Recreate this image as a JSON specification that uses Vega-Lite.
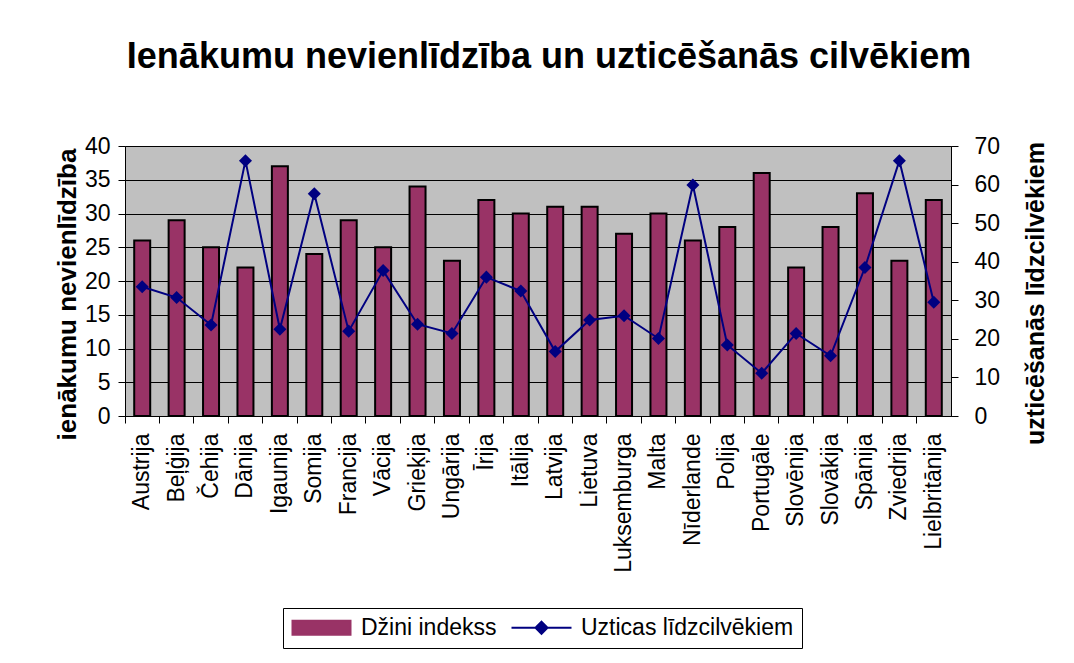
{
  "$schema": "https://vega.github.io/schema/vega-lite/v6.json",
  "autosize": {"type": "none"},
  "width": 826,
  "height": 270,
  "padding": {"left": 125, "top": 146, "right": 123, "bottom": 247},
  "background": "white",
  "config": {
    "font": "Liberation Sans",
    "view": {"fill": "#C0C0C0", "stroke": "#808080", "strokeWidth": 1},
    "axis": {"labelColor": "black", "titleColor": "black", "labelFont": "Liberation Sans", "titleFont": "Liberation Sans"}
  },
  "title": {
    "text": "Ienākumu nevienlīdzība un uzticēšanās cilvēkiem",
    "fontSize": 36,
    "fontWeight": "bold",
    "color": "black",
    "anchor": "middle",
    "dx": 11,
    "offset": 59
  },
  "data": {
    "values": [
      {"valsts": "Austrija", "dzini": 26, "uzticas": 33.5},
      {"valsts": "Beļģija", "dzini": 29, "uzticas": 30.7},
      {"valsts": "Čehija", "dzini": 25, "uzticas": 23.6},
      {"valsts": "Dānija", "dzini": 22, "uzticas": 66.2},
      {"valsts": "Igaunija", "dzini": 37, "uzticas": 22.5},
      {"valsts": "Somija", "dzini": 24, "uzticas": 57.6},
      {"valsts": "Francija", "dzini": 29, "uzticas": 22.0},
      {"valsts": "Vācija", "dzini": 25, "uzticas": 37.7},
      {"valsts": "Grieķija", "dzini": 34, "uzticas": 23.8},
      {"valsts": "Ungārija", "dzini": 23, "uzticas": 21.4},
      {"valsts": "Īrija", "dzini": 32, "uzticas": 36.0},
      {"valsts": "Itālija", "dzini": 30, "uzticas": 32.4},
      {"valsts": "Latvija", "dzini": 31, "uzticas": 16.7},
      {"valsts": "Lietuva", "dzini": 31, "uzticas": 24.9},
      {"valsts": "Luksemburga", "dzini": 27, "uzticas": 26.0},
      {"valsts": "Malta", "dzini": 30, "uzticas": 20.1},
      {"valsts": "Nīderlande", "dzini": 26, "uzticas": 59.9},
      {"valsts": "Polija", "dzini": 28, "uzticas": 18.4},
      {"valsts": "Portugāle", "dzini": 36, "uzticas": 11.1},
      {"valsts": "Slovēnija", "dzini": 22, "uzticas": 21.4},
      {"valsts": "Slovākija", "dzini": 28, "uzticas": 15.6},
      {"valsts": "Spānija", "dzini": 33, "uzticas": 38.5},
      {"valsts": "Zviedrija", "dzini": 23, "uzticas": 66.2},
      {"valsts": "Lielbritānija", "dzini": 32, "uzticas": 29.5}
    ]
  },
  "encoding": {
    "x": {
      "field": "valsts",
      "type": "nominal",
      "sort": null,
      "scale": {"paddingInner": 0, "paddingOuter": 0},
      "axis": {
        "title": null,
        "labelAngle": -90,
        "labelAlign": "right",
        "labelBaseline": "middle",
        "labelFontSize": 23,
        "labelPadding": 10,
        "bandPosition": 0,
        "tickSize": 7,
        "tickColor": "black",
        "domainColor": "black",
        "labelLimit": 300
      }
    }
  },
  "layer": [
    {
      "mark": {"type": "bar", "size": 16, "stroke": "black", "strokeWidth": 2},
      "encoding": {
        "y": {
          "field": "dzini",
          "type": "quantitative",
          "scale": {"domain": [0, 40], "nice": false},
          "axis": {
            "title": "ienākumu nevienlīdzība",
            "titleFontSize": 26,
            "titleFontWeight": "bold",
            "titlePadding": 4,
            "titleY": 148,
            "values": [0, 5, 10, 15, 20, 25, 30, 35, 40],
            "labelFontSize": 23,
            "labelPadding": 8,
            "tickSize": 7,
            "tickColor": "black",
            "domainColor": "black",
            "grid": true,
            "gridColor": "black",
            "gridWidth": 1
          }
        },
        "color": {
          "datum": "Džini indekss",
          "type": "nominal",
          "scale": {"domain": ["Džini indekss", "Uzticas līdzcilvēkiem"], "range": ["#993366", "#000080"]},
          "legend": {
            "title": null,
            "orient": "none",
            "direction": "horizontal",
            "legendX": 158,
            "legendY": 462,
            "labelFontSize": 23,
            "labelColor": "black",
            "labelFont": "Liberation Sans",
            "labelLimit": 400,
            "symbolSize": 400,
            "symbolOffset": 19,
            "labelOffset": 28,
            "columnPadding": 10,
            "padding": 8,
            "strokeColor": "black",
            "fillColor": "white",
            "symbolType": {"expr": "datum.value === 'Džini indekss' ? 'M-2.9,-0.7H2.9V0.7H-2.9Z' : 'M-3.0,0H3.0M0,-0.6L0.6,0L0,0.6L-0.6,0Z'"},
            "symbolStrokeColor": {"expr": "datum.value === 'Džini indekss' ? 'black' : '#000080'"},
            "symbolStrokeWidth": 2,
            "symbolOpacity": 1
          }
        }
      }
    },
    {
      "mark": {"type": "line", "color": "#000080", "strokeWidth": 2, "point": {"shape": "diamond", "filled": true, "size": 170, "color": "#000080"}},
      "encoding": {
        "y": {
          "field": "uzticas",
          "type": "quantitative",
          "scale": {"domain": [0, 70], "nice": false},
          "axis": {
            "orient": "right",
            "title": "uzticēšanās līdzcilvēkiem",
            "titleFontSize": 25,
            "titleFontWeight": "bold",
            "titleAngle": -90,
            "titlePadding": 49,
            "titleY": 147,
            "values": [0, 10, 20, 30, 40, 50, 60, 70],
            "labelFontSize": 23,
            "labelPadding": 16,
            "tickSize": 7,
            "tickColor": "black",
            "domainColor": "black",
            "grid": false
          }
        },
        "color": {"datum": "Uzticas līdzcilvēkiem", "type": "nominal"}
      }
    }
  ],
  "resolve": {"scale": {"y": "independent"}}
}
